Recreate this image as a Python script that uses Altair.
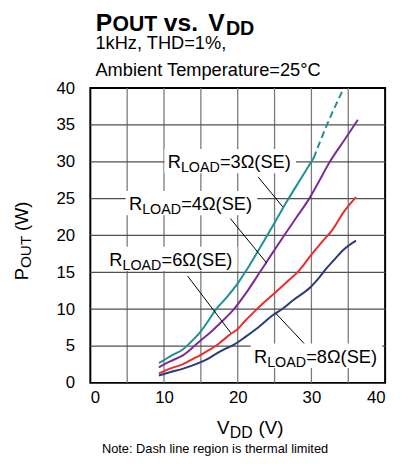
import altair as alt
import pandas as pd

FONT = "Liberation Sans, Arial, Helvetica, sans-serif"

# ---------------- data ----------------
series_names = ["3Ω", "4Ω", "6Ω", "8Ω"]
series_colors = ["#1f9090", "#7b2b99", "#ee2b2b", "#2c3a7a"]

x_3 = [9.3, 10, 11, 12.5, 14, 15, 16, 17, 18.5, 20, 21.5, 23, 24, 25.5, 26.6, 28.5, 30.3]
y_3 = [2.7, 3.1, 3.7, 4.5, 5.9, 7.0, 8.4, 9.9, 11.6, 13.5, 15.8, 18.3, 20.0, 22.6, 24.5, 27.6, 30.5]
x_3_dash = [30.3, 32.1, 34.4]
y_3_dash = [30.5, 35.0, 40.0]

x_4 = [9.3, 10, 11, 12.5, 14, 15, 16, 17.5, 19.4, 21, 23, 24.5, 26.3, 28, 29.7, 31, 32.5, 34.5, 36.3]
y_4 = [2.1, 2.5, 3.0, 3.7, 4.9, 5.8, 6.6, 8.0, 9.9, 12.0, 15.0, 17.3, 20.0, 22.5, 25.0, 27.3, 30.0, 33.0, 35.7]

x_6 = [9.3, 10, 11, 12.5, 14, 15, 16, 17, 18, 19, 20, 21, 22.5, 24, 25.7, 27, 28.1, 30, 31.5, 32.8, 34.4, 36.05]
y_6 = [1.3, 1.6, 2.0, 2.5, 3.3, 3.8, 4.4, 5.0, 5.8, 6.6, 7.3, 8.4, 9.9, 11.3, 12.8, 14.0, 15.0, 17.4, 19.2, 20.7, 23.2, 25.2]

x_8 = [9.3, 10, 11, 12.5, 14.5, 16, 17, 18.5, 19.5, 21, 22.5, 24.8, 26, 27.5, 29.9, 31, 32, 33, 34.4, 36.05]
y_8 = [1.0, 1.2, 1.5, 1.9, 2.6, 3.3, 3.9, 4.7, 5.2, 6.2, 7.3, 9.2, 10.0, 11.2, 13.0, 14.2, 15.5, 16.6, 18.1, 19.3]

label_rest = ["=3Ω(SE)", "=4Ω(SE)", "=6Ω(SE)", "=8Ω(SE)"]
label_x = [10.5, 5.24, 2.57, 22.2]
label_y = [29.1, 23.4, 15.83, 2.68]
leader_x1 = [22.8, 19.0, 13.2, 29.0]
leader_y1 = [27.9, 22.3, 14.5, 5.35]
leader_x2 = [26.1, 23.9, 19.05, 25.2]
leader_y2 = [23.9, 16.3, 6.8, 9.4]

x_ticks = [0, 10, 20, 30, 40]
y_ticks = [0, 5, 10, 15, 20, 25, 30, 35, 40]
grid_vals = [5, 10, 15, 20, 25, 30, 35]

# ---------------- tables ----------------
rows = []
for name, xs_, ys_ in zip(series_names, [x_3, x_4, x_6, x_8], [y_3, y_4, y_6, y_8]):
    for i, (a, b) in enumerate(zip(xs_, ys_)):
        rows.append({"series": name, "x": a, "y": b, "i": i})
curves = pd.DataFrame(rows)
dash = pd.DataFrame({"series": "3Ω", "x": x_3_dash, "y": y_3_dash, "i": range(len(x_3_dash))})

labels = pd.DataFrame({
    "rest": label_rest, "lx": label_x, "ly": label_y,
    "x1": leader_x1, "y1": leader_y1, "x2": leader_x2, "y2": leader_y2,
})
labels["bx1"] = labels["lx"] - 0.45
labels["bx2"] = labels["lx"] + 17.4
labels["by1"] = labels["ly"] - 0.65
labels["by2"] = labels["ly"] + 2.65

grid = pd.DataFrame({"g": grid_vals})
one = pd.DataFrame({"k": [0]})

xs = alt.Scale(domain=[0, 40], nice=False)
ys = alt.Scale(domain=[0, 40], nice=False)
x_axis = alt.Axis(values=x_ticks, grid=False, ticks=False, domain=False, labelFontSize=17,
                  labelPadding=7, title=None, labelFont=FONT, labelColor="black", labelFlush=True)
y_axis = alt.Axis(values=y_ticks, grid=False, ticks=False, domain=False, labelFontSize=17,
                  labelPadding=16, title=None, labelFont=FONT, labelColor="black")
color = alt.Color("series:N", scale=alt.Scale(domain=series_names, range=series_colors), legend=None)

vgrid = alt.Chart(grid).mark_rule(color="#7a7a7a", strokeWidth=1.3).encode(
    x=alt.X("g:Q", scale=xs, axis=x_axis))
hgrid = alt.Chart(grid).mark_rule(color="#505050", strokeWidth=1.3).encode(
    y=alt.Y("g:Q", scale=ys, axis=y_axis))

boxes = alt.Chart(labels).mark_rect(fill="white").encode(
    x=alt.X("bx1:Q", scale=xs, axis=x_axis), x2="bx2:Q",
    y=alt.Y("by1:Q", scale=ys, axis=y_axis), y2="by2:Q")

lines = alt.Chart(curves).mark_line(strokeWidth=2, interpolate="monotone").encode(
    x=alt.X("x:Q", scale=xs, axis=x_axis), y=alt.Y("y:Q", scale=ys, axis=y_axis),
    color=color, order="i:Q")
dashed = alt.Chart(dash).mark_line(strokeWidth=2, strokeDash=[7, 4], interpolate="monotone").encode(
    x=alt.X("x:Q", scale=xs, axis=x_axis), y=alt.Y("y:Q", scale=ys, axis=y_axis),
    color=color, order="i:Q")

leaders = alt.Chart(labels).mark_rule(color="black", strokeWidth=1).encode(
    x=alt.X("x1:Q", scale=xs, axis=x_axis), x2="x2:Q",
    y=alt.Y("y1:Q", scale=ys, axis=y_axis), y2="y2:Q")

lab_enc = dict(x=alt.X("lx:Q", scale=xs, axis=x_axis), y=alt.Y("ly:Q", scale=ys, axis=y_axis))
lab_r = alt.Chart(labels).mark_text(text="R", font=FONT, fontSize=18.5, align="left",
                                    baseline="alphabetic", color="black").encode(**lab_enc)
lab_load = alt.Chart(labels).mark_text(text="LOAD", font=FONT, fontSize=14.5, align="left",
                                       baseline="alphabetic", color="black", dx=13.4, dy=3.5).encode(**lab_enc)
lab_rest = alt.Chart(labels).mark_text(font=FONT, fontSize=18.5, align="left",
                                       baseline="alphabetic", color="black", dx=53).encode(
    text="rest:N", **lab_enc)


def txt(s, px, py, size, bold=False, angle=0, align="left"):
    kw = dict(text=s, font=FONT, fontSize=size, align=align, baseline="alphabetic",
              color="black", fontWeight="bold" if bold else "normal")
    if angle:
        kw["angle"] = angle
    return alt.Chart(one).mark_text(**kw).encode(x=alt.value(px), y=alt.value(py))


OX, OY = 91.5, 86.0  # plot origin on the page
deco = [
    txt("P", 97 - OX, 28.5 - OY, 25, True),
    txt("OUT", 114 - OX, 28.5 - OY, 21.5, True),
    txt("vs.", 166 - OX, 28.5 - OY, 25, True),
    txt("V", 211 - OX, 28.5 - OY, 25, True),
    txt("DD", 229 - OX, 32 - OY, 20, True),
    txt("1kHz, THD=1%,", 96.7 - OX, 46 - OY, 18.5),
    txt("Ambient Temperature=25°C", 96.7 - OX, 73.5 - OY, 18.5),
    txt("V", 220 - OX, 436.7 - OY, 19),
    txt("DD", 233 - OX, 440.5 - OY, 16),
    txt("(V)", 262 - OX, 436.7 - OY, 19),
    txt("Note: Dash line region is thermal limited", 218 - OX, 456 - OY, 13, align="center"),
    txt("P", 28.5 - OX, 281 - OY, 18.5, angle=270),
    txt("OUT", 31 - OX, 268.5 - OY, 15.5, angle=270),
    txt("(W)", 28.5 - OX, 231 - OY, 18.5, angle=270),
]

chart = alt.layer(vgrid, hgrid, boxes, lines, dashed, leaders, lab_r, lab_load, lab_rest, *deco).properties(
    width=299, height=299,
    autosize=alt.AutoSizeParams(type="none"),
    padding={"left": 83.5, "top": 78, "right": 8, "bottom": 75},
    background="white",
).configure_view(stroke="black", strokeWidth=2)

chart.save("out.html", embed_options={"renderer": "svg", "actions": False})
